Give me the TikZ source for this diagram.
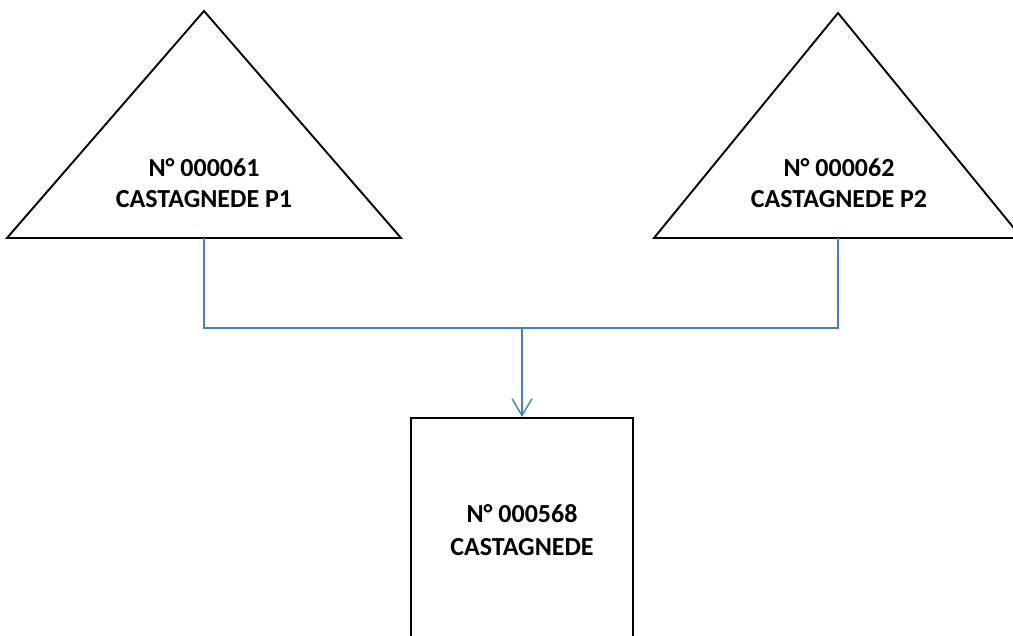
\documentclass[tikz,border=0pt]{standalone}
\usepackage{fontspec}
\setmainfont{Carlito}
\usetikzlibrary{arrows.meta}
\definecolor{linkblue}{HTML}{4A7EBB}

\begin{document}
\begin{tikzpicture}[
  x=1pt,y=-1pt,
  parcel/.style={draw=black,line width=1.9pt,line join=miter},
  label/.style={align=center,font=\fontsize{26}{31}\selectfont\bfseries,inner sep=0pt},
  cadbox/.style={draw=black,line width=1.9pt,minimum width=222pt,minimum height=224pt,
    inner sep=0pt,align=center,font=\fontsize{26}{33}\selectfont\bfseries},
  link/.style={draw=linkblue,line width=1.4pt}
]
\useasboundingbox (0,0) rectangle (1013,636);

% old parcels
\coordinate (p1top) at (204,11);
\coordinate (p1base) at (204,238);
\draw[parcel] (p1top) -- (401,238) -- (7,238) -- cycle;
\node[label] (p1) at (204,183) {N° 000061\\CASTAGNEDE P1};

\coordinate (p2top) at (838,13);
\coordinate (p2base) at (838,238);
\draw[parcel] (p2top) -- (1022,238) -- (654,238) -- cycle;
\node[label] (p2) at (839,183) {N° 000062\\CASTAGNEDE P2};

% merged parcel
\node[cadbox] (cad) at (522,530) {N° 000568\\CASTAGNEDE};

\coordinate (joint) at (522,328);
\draw[link] (p1base) |- (joint) -| (p2base);
\draw[link,-{Straight Barb[length=17pt,width=20pt,line width=1.4pt]}] (joint) -- (cad.north);
\end{tikzpicture}
\end{document}
